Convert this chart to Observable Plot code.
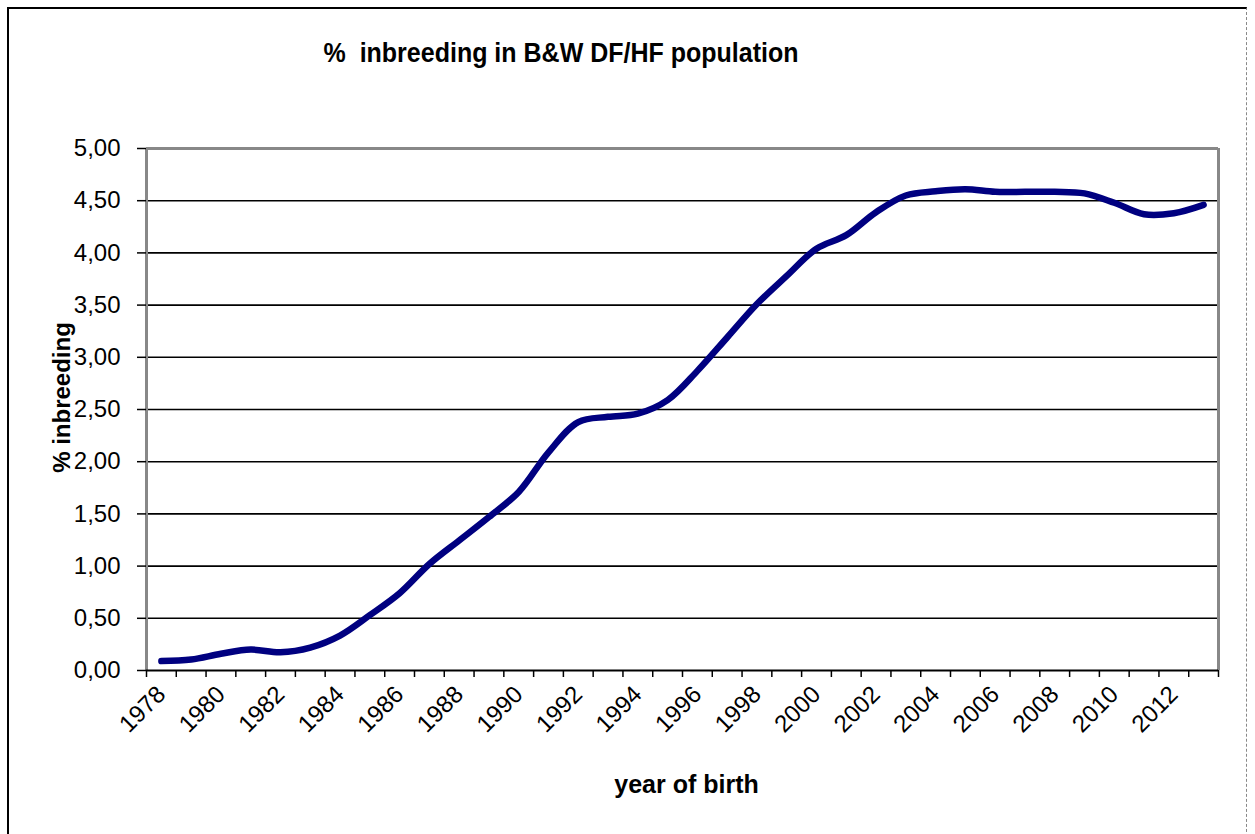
<!DOCTYPE html>
<html>
<head>
<meta charset="utf-8">
<script src="https://cdn.jsdelivr.net/npm/d3@7"></script>
<script src="https://cdn.jsdelivr.net/npm/@observablehq/plot@0.6"></script>
<style>
  html, body { margin: 0; padding: 0; background: #fff; }
  #wrap { position: relative; width: 1255px; height: 834px; overflow: hidden; font-family: "Liberation Sans", Arial, sans-serif; }
  #frame { position: absolute; left: 7px; top: 7px; width: 1240px; height: 840px; border-left: 2px solid #000; border-top: 2px solid #000; border-right: 1px dashed #888; box-sizing: border-box; }
  #title { position: absolute; left: 0; width: 1122px; top: 38px; text-align: center; font-weight: bold; font-size: 25px; color: #000; transform: scaleY(1.1); }
  #chart { position: absolute; left: 0; top: 0; }
</style>
</head>
<body>
<div id="wrap">
  <div id="frame"></div>
  <div id="chart"></div>
  <div id="title">%&nbsp; inbreeding in B&amp;W DF/HF population</div>
</div>
<script>
const years = [1978,1979,1980,1981,1982,1983,1984,1985,1986,1987,1988,1989,1990,1991,1992,1993,1994,1995,1996,1997,1998,1999,2000,2001,2002,2003,2004,2005,2006,2007,2008,2009,2010,2011,2012,2013];
const inbreeding = [0.09,0.105,0.16,0.20,0.175,0.22,0.335,0.53,0.74,1.02,1.245,1.47,1.71,2.09,2.38,2.43,2.46,2.59,2.87,3.19,3.51,3.78,4.04,4.17,4.39,4.55,4.59,4.61,4.585,4.585,4.585,4.57,4.48,4.37,4.38,4.46];
const yTicks = [0,0.5,1,1.5,2,2.5,3,3.5,4,4.5,5];
const xLabelYears = [1978,1980,1982,1984,1986,1988,1990,1992,1994,1996,1998,2000,2002,2004,2006,2008,2010,2012];
const xTitle = "year of birth";
const yTitle = "% inbreeding";

const data = years.map((y, i) => ({year: y, value: inbreeding[i]}));
const boundaries = d3.range(years[0] - 0.5, years[years.length - 1] + 1, 1);
const fmt = d => d3.format(".2f")(d).replace(".", ",");

const chart = Plot.plot({
  width: 1255,
  height: 834,
  marginLeft: 146,
  marginRight: 37,
  marginTop: 148,
  marginBottom: 164,
  style: {fontFamily: "'Liberation Sans', Arial, sans-serif", background: "transparent", color: "#000"},
  x: {type: "linear", domain: [years[0] - 0.5, years[years.length - 1] + 0.5]},
  y: {domain: [0, 5]},
  marks: [
    Plot.ruleY(yTicks.slice(1, -1), {y: d => d, stroke: "#000", strokeWidth: 1.6}),
    Plot.ruleY([5], {stroke: "#888", strokeWidth: 3}),
    Plot.ruleX([years[0] - 0.5, years[years.length - 1] + 0.5], {stroke: "#888", strokeWidth: 3}),
    Plot.ruleY([0], {stroke: "#000", strokeWidth: 2}),
    Plot.axisY({ticks: yTicks, tickFormat: fmt, tickSize: 9, tickPadding: 17, fontSize: 24, label: null, stroke: "#000", strokeWidth: 1.5}),
    Plot.axisX({ticks: boundaries, tickFormat: () => "", tickSize: 7, label: null, stroke: "#000", strokeWidth: 1.5}),
    Plot.axisX({ticks: xLabelYears, tickFormat: d => String(d), tickSize: 0, tickPadding: 20, tickRotate: -45, fontSize: 24, label: null}),
    Plot.line(data, {x: "year", y: "value", stroke: "#000080", strokeWidth: 6.5, strokeLinejoin: "round", strokeLinecap: "round", curve: "catmull-rom"}),
    Plot.text([xTitle], {frameAnchor: "bottom", dy: 122, fontSize: 25, fontWeight: "bold", text: d => d, fill: "#000", dx: 4}),
    Plot.text([yTitle], {frameAnchor: "left", textAnchor: "middle", dx: -84, dy: -12, rotate: -90, fontSize: 24, fontWeight: "bold", text: d => d, fill: "#000"})
  ]
});
document.getElementById("chart").appendChild(chart);
</script>
</body>
</html>
